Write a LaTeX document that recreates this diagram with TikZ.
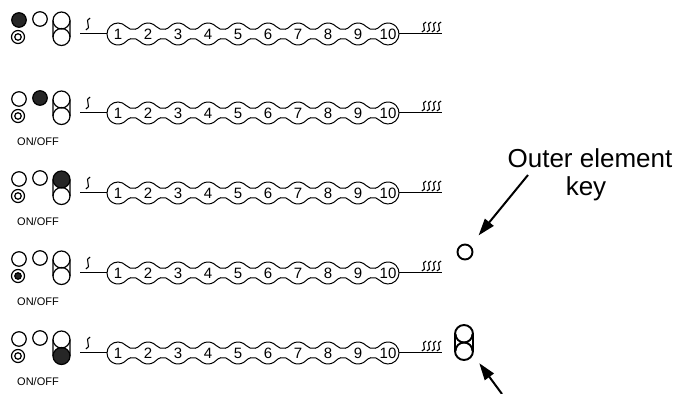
\documentclass[tikz,border=0pt]{standalone}
\usepackage{fontspec}
\setmainfont{Liberation Sans}
\usetikzlibrary{arrows.meta}
\newcommand\heat[3]{\draw[heatline, shift={(#1,#2)}, yscale=#3] (-2.1,0) .. controls (0.8,0.03) and (1.1,0.32) .. (0,0.5) .. controls (-1.1,0.68) and (-0.8,0.97) .. (2.1,1);}
\newcommand\capinner[4][icon]{% x, y of top inner centre, y of bottom inner centre
  \draw[#1] (#2+8.5,#3) arc[start angle=0,end angle=-180,radius=8.5];
  \draw[#1] (#2-8.5,#4) arc[start angle=180,end angle=0,radius=8.5];}
\newcommand\drawrow[8]{%
\begin{scope}[yshift=#2pt]
  \node[dot,#3] (r#1a) at (19,14) {};
  \node[dot,#4] (r#1b) at (40,15) {};
  \node[ring] (r#1c) at (18,-3) {};
  \node[core,#5] (r#1d) at (18,-3) {};
  \path[#6] (61.5,13.5) circle (8.5);
  \path[#7] (61.5,-3) circle (8.5);
  \node[capsule] (r#1e) at (61.5,5.25) {};
  \capinner{61.5}{13.5}{-3}
  \node[lbl] (r#1f) at (38,-28.5) {#8};
  \coordinate (r#1l) at (80,0);
  \coordinate (r#1s) at (107,0);
  \draw[chainline] (r#1l) -- (r#1s);
  \heat{88}{4}{12}
  \draw[chainline] (107,0) arc[start angle=180,end angle=43.14,radius=11]
    \foreach \k in {1,...,9}{ arc[start angle=223.14,end angle=316.86,radius=9.558] arc[start angle=136.86,end angle=43.14,radius=11] }
    arc[start angle=43.14,end angle=-136.86,radius=11]
    \foreach \k in {1,...,9}{ arc[start angle=43.14,end angle=136.86,radius=9.558] arc[start angle=-43.14,end angle=-136.86,radius=11] }
    arc[start angle=-136.86,end angle=-180,radius=11] -- cycle;
  \foreach \k in {1,...,10}{\node[num] (r#1n\k) at ({118+30*(\k-1)},0) {\k};}
  \coordinate (r#1t) at (399,0);
  \coordinate (r#1r) at (442,0);
  \draw[chainline] (r#1t) -- (r#1r);
  \foreach \hx in {424,429,434,439}{\heat{\hx}{2}{10}}
\end{scope}}
\begin{document}
\begin{tikzpicture}[x=1pt,y=1pt,
  chainline/.style={line width=1pt},
  heatline/.style={line width=1.1pt},
  icon/.style={line width=1.2pt},
  bold/.style={line width=1.9pt},
  dot/.style={circle, draw, line width=1.2pt, minimum size=14.5pt, inner sep=0pt},
  ring/.style={circle, draw, line width=1.2pt, minimum size=13pt, inner sep=0pt},
  core/.style={circle, draw, line width=1.2pt, minimum size=6.5pt, inner sep=0pt},
  capsule/.style={draw, line width=1.2pt, rounded corners=8.5pt, minimum width=17pt, minimum height=33.5pt, inner sep=0pt},
  num/.style={font=\fontsize{15}{15}\selectfont, inner sep=0pt},
  lbl/.style={font=\fontsize{11}{11}\selectfont, inner sep=0pt},
  big/.style={font=\fontsize{26}{28}\selectfont, inner sep=0pt},
  pointer/.style={line width=2pt, -{Triangle[length=17pt,width=11pt]}},
  dark/.style={fill=black!85}]
\useasboundingbox (0,0) rectangle (681,394);
\drawrow{1}{360}{dark}{}{}{}{}{}
\drawrow{2}{281}{}{dark}{}{}{}{ON/OFF}
\drawrow{3}{201}{}{}{}{dark}{}{ON/OFF}
\drawrow{4}{121}{}{}{dark}{}{}{ON/OFF}
\drawrow{5}{41}{}{}{}{}{dark}{ON/OFF}
% key symbols
\node[dot, bold, minimum size=15pt] (keyc) at (465,142) {};
\node[capsule, bold, minimum height=35pt, minimum width=18pt, rounded corners=9pt] (keyp) at (464,51.5) {};
\capinner[bold]{464}{60}{43}
% labels and arrows
\node[big, anchor=base] (okey1) at (590,226) {Outer element};
\node[big, anchor=base] (okey2) at (586,198) {key};
\coordinate (a1t) at (528,219);
\draw[pointer, shorten >=13pt] (a1t) -- (keyc);
\coordinate (a2t) at (502,0);
\draw[pointer, shorten >=9pt] (a2t) -- (keyp);
\end{tikzpicture}
\end{document}
